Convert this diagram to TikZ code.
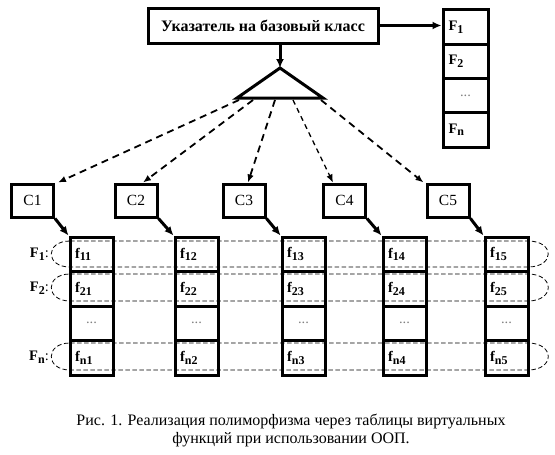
\documentclass[tikz,border=0pt]{standalone}
\usepackage{fontspec}
\setmainfont{Liberation Serif}
\usetikzlibrary{arrows.meta}
\newcommand\lowsub[1]{\raisebox{-0.4ex}{\fontsize{12}{12}\selectfont #1}}
\newcommand\dotsgray{{\color{gray}...}}
\begin{document}
\begin{tikzpicture}[x=1pt,y=-1pt,
  thickbox/.style={draw, line width=3pt, inner sep=0pt},
  tcell/.style={draw, line width=3pt, minimum height=34.5pt, inner xsep=5pt, inner ysep=0pt,
                text width=33pt, align=left, font=\fontsize{14.5}{16}\selectfont\bfseries},
  fcell/.style={tcell, text width=34pt, inner xsep=5.5pt, minimum height=34.25pt},
  cbox/.style={thickbox, minimum width=42pt, minimum height=33pt, font=\fontsize{15.5}{17}\selectfont},
  solidarr/.style={line width=3pt, -{Latex[length=9pt,width=8pt]}},
  dasharr/.style={line width=1.8pt, dash pattern=on 7pt off 5pt, -{Latex[length=8pt,width=6.5pt]}},
  band/.style={line width=0.8pt, dash pattern=on 4.5pt off 2.5pt},
  flab/.style={anchor=east, inner sep=0pt, font=\fontsize{14.5}{16}\selectfont}
]
\useasboundingbox (0,0) rectangle (555,455);

% pointer box
\node[thickbox, minimum width=230pt, minimum height=35pt, font=\fontsize{16}{18}\selectfont\bfseries]
  (ptr) at (263,25.5) {Указатель на базовый класс};

% base-class function table
\node[fcell] (F1) at (465.5,27.1) {F\lowsub{1}};
\node[fcell] (F2) at (465.5,61.4) {F\lowsub{2}};
\node[fcell, align=center] (F3) at (465.5,95.6) {\mdseries\dotsgray};
\node[fcell] (F4) at (465.5,129.9) {F\lowsub{n}};

\draw[solidarr] (ptr.east) -- (ptr.east -| F1.west);

% triangle
\coordinate (apex) at (280,68);
\coordinate (bl) at (237,98);
\coordinate (br) at (323,98);
\draw[line width=3pt] (apex) -- (bl) -- (br) -- cycle;
\draw[solidarr] (ptr.south -| apex) -- (apex);

% classes
\foreach \cx [count=\i] in {32.5,136,244,344.5,448}{
  \node[cbox] (C\i) at (\cx,200.5) {C\i};
}

% dashed arrows from triangle
\coordinate (s1) at (239,100);
\coordinate (s2) at (253,100);
\coordinate (s3) at (275,100);
\coordinate (s4) at (293,100);
\coordinate (s5) at (321,100);
\draw[dasharr] (s1) -- ([xshift=3pt]C1.north east);
\draw[dasharr] (s2) -- ([xshift=7pt]C2.north);
\draw[dasharr] (s3) -- ([xshift=4pt]C3.north);
\draw[dasharr, line width=1.3pt, dash pattern=on 5pt off 4pt] (s4) -- ([xshift=11pt]C4.north west);
\draw[dasharr] (s5) -- ([xshift=-2pt]C5.north west);

% virtual tables
\foreach \L [count=\i] in {70,175,282,383,485}{
  \node[tcell] (t\i a) at (\L+21.5,254.25) {f\lowsub{1\i}};
  \node[tcell] (t\i b) at (\L+21.5,288.75) {f\lowsub{2\i}};
  \node[tcell, align=center] (t\i c) at (\L+21.5,323.25) {\mdseries\dotsgray};
  \node[tcell] (t\i d) at (\L+21.5,357.75) {f\lowsub{n\i}};
  \draw[solidarr] (C\i.south east) -- (t\i a.north west);
}

% dashed bands
\draw[band] (70,241) -- (528,241) .. controls (555,241) and (555,267) .. (528,267)
  -- (70,267) .. controls (45,267) and (45,241) .. (70,241);
\draw[band] (70,274) -- (528,274) .. controls (555,274) and (555,301) .. (528,301)
  -- (70,301) .. controls (45,301) and (45,274) .. (70,274);
\draw[band] (70,343) -- (528,343) .. controls (555,343) and (555,370) .. (528,370)
  -- (70,370) .. controls (45,370) and (45,343) .. (70,343);

\node[flab] (L1) at (49,254) {\textbf{F\lowsub{1}}:};
\node[flab] (L2) at (49,288) {\textbf{F\lowsub{2}}:};
\node[flab] (L3) at (49,357) {\textbf{F\lowsub{n}}:};

% caption
\node[align=center, font=\fontsize{16}{18}\selectfont] (cap) at (291,430)
  {Рис. 1. Реализация полиморфизма через таблицы виртуальных\\функций при использовании ООП.};
\end{tikzpicture}
\end{document}
